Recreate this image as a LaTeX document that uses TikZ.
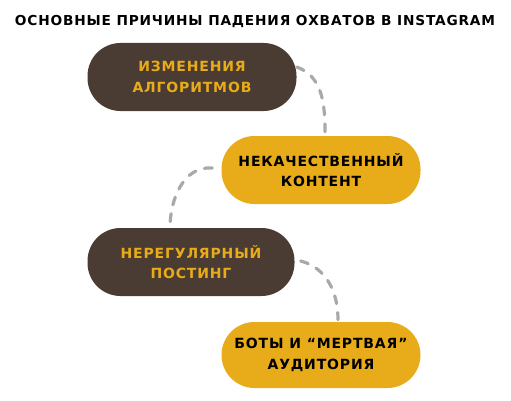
\documentclass[tikz,border=0pt]{standalone}
\usepackage{fontspec}
\setmainfont{DejaVu Sans}[LetterSpace=6]
\usetikzlibrary{positioning}
\definecolor{barkbrown}{HTML}{4A3C33}
\definecolor{mustard}{HTML}{E8AC1A}
\definecolor{dashgray}{HTML}{A9A9A9}
\begin{document}
\begin{tikzpicture}[x=1pt,y=1pt,
    reason/.style={rounded corners=33pt,minimum width=205pt,minimum height=68pt,
        align=center,font=\bfseries\fontsize{14}{20.5}\selectfont},
    darkreason/.style={reason,fill=barkbrown,text=mustard},
    lightreason/.style={reason,fill=mustard,text=black},
    link/.style={dashgray,line width=3.2pt,line cap=round,dash pattern=on 8pt off 9pt}]

    \useasboundingbox (0,0) rectangle (511,400);

    %draw title
    \node (title) at (255,378.5) {\bfseries\fontsize{13.7}{16}\selectfont ОСНОВНЫЕ ПРИЧИНЫ ПАДЕНИЯ ОХВАТОВ В INSTAGRAM};

    %draw reasons
    \node[darkreason,minimum width=209pt]  (algo)    at (192,323) {ИЗМЕНЕНИЯ\\АЛГОРИТМОВ};
    \node[lightreason,minimum width=199pt] (content) at (321,230) {НЕКАЧЕСТВЕННЫЙ\\КОНТЕНТ};
    \node[darkreason,minimum width=207pt]  (posting) at (191,138) {НЕРЕГУЛЯРНЫЙ\\ПОСТИНГ};
    \node[lightreason,minimum width=199pt,minimum height=66pt] (bots) at (321,45) {БОТЫ И “МЕРТВАЯ”\\АУДИТОРИЯ};

    %draw dashed links
    \draw[link] ([yshift=10pt]algo.east) to[out=-20,in=90] ([xshift=4pt,yshift=3pt]content.north);
    \draw[link] ([xshift=-9pt,yshift=2pt]content.west) to[out=175,in=90] ([xshift=-21pt]posting.north);
    \draw[link] ([xshift=6pt,yshift=1pt]posting.east) to[out=-15,in=90] ([xshift=17pt,yshift=2pt]bots.north);

\end{tikzpicture}
\end{document}
